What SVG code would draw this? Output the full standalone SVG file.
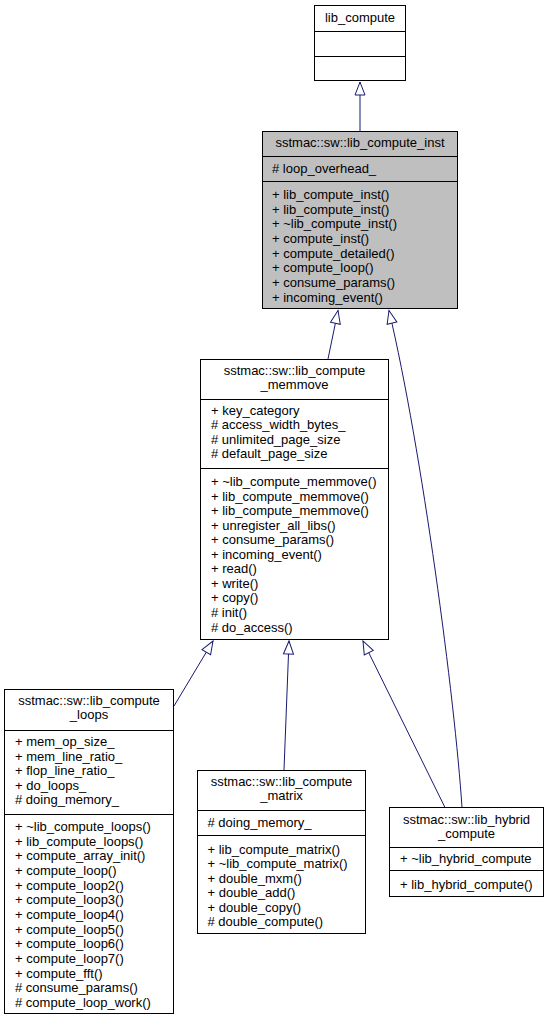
<svg xmlns="http://www.w3.org/2000/svg" width="549" height="1021" viewBox="0 0 549 1021">
<style>
.box{fill:#fff;stroke:#000;stroke-width:1}
.gray{fill:#bfbfbf}
.dv{stroke:#000;stroke-width:1}
text{font-family:"Liberation Sans",Arial,sans-serif;font-size:13px;fill:#000}
.c{text-anchor:middle}
.e{fill:none;stroke:#191970;stroke-width:1}
</style>
<defs>
<marker id="ah" markerUnits="userSpaceOnUse" markerWidth="16" markerHeight="12" refX="13" refY="5" orient="auto" overflow="visible">
<path d="M0,0 L13,5 L0,10 Z" fill="#fff" stroke="#191970" stroke-width="1"/>
</marker>
</defs>
<rect width="549" height="1021" fill="#fff"/>

<g id="connectors">
<path class="e" d="M360,131 L360,82" marker-end="url(#ah)"/>
<path class="e" d="M328,359 L338,310.5" marker-end="url(#ah)"/>
<path class="e" d="M462,807.5 C455,700 422,450 389,310.5" marker-end="url(#ah)"/>
<path class="e" d="M174,706 L213,641" marker-end="url(#ah)"/>
<path class="e" d="M284,770 L289,641" marker-end="url(#ah)"/>
<path class="e" d="M445,807.5 L363,641" marker-end="url(#ah)"/>
</g>

<g id="lib_compute">
<rect class="box" x="314.5" y="5.5" width="91" height="75"/>
<line class="dv" x1="314.5" y1="31.5" x2="405.5" y2="31.5"/>
<line class="dv" x1="314.5" y1="56.5" x2="405.5" y2="56.5"/>
<text class="c" x="360" y="21.5">lib_compute</text>
</g>

<g id="lib_compute_inst">
<rect class="box gray" x="262.5" y="131.5" width="195" height="177"/>
<line class="dv" x1="262.5" y1="156.5" x2="457.5" y2="156.5"/>
<line class="dv" x1="262.5" y1="181.5" x2="457.5" y2="181.5"/>
<text class="c" x="360" y="147">sstmac::sw::lib_compute_inst</text>
<text x="272" y="172.5"># loop_overhead_</text>
<text x="272" y="199">+ lib_compute_inst()</text>
<text x="272" y="213.65">+ lib_compute_inst()</text>
<text x="272" y="228.3">+ ~lib_compute_inst()</text>
<text x="272" y="242.95">+ compute_inst()</text>
<text x="272" y="257.6">+ compute_detailed()</text>
<text x="272" y="272.25">+ compute_loop()</text>
<text x="272" y="286.9">+ consume_params()</text>
<text x="272" y="301.55">+ incoming_event()</text>
</g>

<g id="lib_compute_memmove">
<rect class="box" x="200.5" y="359.5" width="188" height="280"/>
<line class="dv" x1="200.5" y1="399.5" x2="388.5" y2="399.5"/>
<line class="dv" x1="200.5" y1="468.5" x2="388.5" y2="468.5"/>
<text class="c" x="294.5" y="375">sstmac::sw::lib_compute</text>
<text class="c" x="294.5" y="389">_memmove</text>
<text x="211" y="414.5">+ key_category</text>
<text x="211" y="429.1"># access_width_bytes_</text>
<text x="211" y="443.7"># unlimited_page_size</text>
<text x="211" y="458.3"># default_page_size</text>
<text x="211" y="486">+ ~lib_compute_memmove()</text>
<text x="211" y="500.55">+ lib_compute_memmove()</text>
<text x="211" y="515.1">+ lib_compute_memmove()</text>
<text x="211" y="529.65">+ unregister_all_libs()</text>
<text x="211" y="544.2">+ consume_params()</text>
<text x="211" y="558.75">+ incoming_event()</text>
<text x="211" y="573.3">+ read()</text>
<text x="211" y="587.85">+ write()</text>
<text x="211" y="602.4">+ copy()</text>
<text x="211" y="616.95"># init()</text>
<text x="211" y="631.5"># do_access()</text>
</g>

<g id="lib_compute_loops">
<rect class="box" x="4.5" y="689.5" width="169" height="324"/>
<line class="dv" x1="4.5" y1="730.5" x2="173.5" y2="730.5"/>
<line class="dv" x1="4.5" y1="814.5" x2="173.5" y2="814.5"/>
<text class="c" x="89" y="705">sstmac::sw::lib_compute</text>
<text class="c" x="89" y="719">_loops</text>
<text x="15" y="746">+ mem_op_size_</text>
<text x="15" y="760.6">+ mem_line_ratio_</text>
<text x="15" y="775.2">+ flop_line_ratio_</text>
<text x="15" y="789.8">+ do_loops_</text>
<text x="15" y="804.4"># doing_memory_</text>
<text x="15" y="831">+ ~lib_compute_loops()</text>
<text x="15" y="845.67">+ lib_compute_loops()</text>
<text x="15" y="860.33">+ compute_array_init()</text>
<text x="15" y="875">+ compute_loop()</text>
<text x="15" y="889.67">+ compute_loop2()</text>
<text x="15" y="904.33">+ compute_loop3()</text>
<text x="15" y="919">+ compute_loop4()</text>
<text x="15" y="933.67">+ compute_loop5()</text>
<text x="15" y="948.33">+ compute_loop6()</text>
<text x="15" y="963">+ compute_loop7()</text>
<text x="15" y="977.67">+ compute_fft()</text>
<text x="15" y="992.33"># consume_params()</text>
<text x="15" y="1007"># compute_loop_work()</text>
</g>

<g id="lib_compute_matrix">
<rect class="box" x="197.5" y="770.5" width="168" height="163"/>
<line class="dv" x1="197.5" y1="810.5" x2="365.5" y2="810.5"/>
<line class="dv" x1="197.5" y1="835.5" x2="365.5" y2="835.5"/>
<text class="c" x="281.5" y="786">sstmac::sw::lib_compute</text>
<text class="c" x="281.5" y="800">_matrix</text>
<text x="207.5" y="827"># doing_memory_</text>
<text x="207.5" y="853.5">+ lib_compute_matrix()</text>
<text x="207.5" y="868">+ ~lib_compute_matrix()</text>
<text x="207.5" y="882.5">+ double_mxm()</text>
<text x="207.5" y="897">+ double_add()</text>
<text x="207.5" y="911.5">+ double_copy()</text>
<text x="207.5" y="926"># double_compute()</text>
</g>

<g id="lib_hybrid_compute">
<rect class="box" x="389.5" y="807.5" width="154" height="89"/>
<line class="dv" x1="389.5" y1="847.5" x2="543.5" y2="847.5"/>
<line class="dv" x1="389.5" y1="870.5" x2="543.5" y2="870.5"/>
<text class="c" x="466.5" y="824">sstmac::sw::lib_hybrid</text>
<text class="c" x="466.5" y="838">_compute</text>
<text x="400" y="863">+ ~lib_hybrid_compute</text>
<text x="400" y="888.5">+ lib_hybrid_compute()</text>
</g>
</svg>
